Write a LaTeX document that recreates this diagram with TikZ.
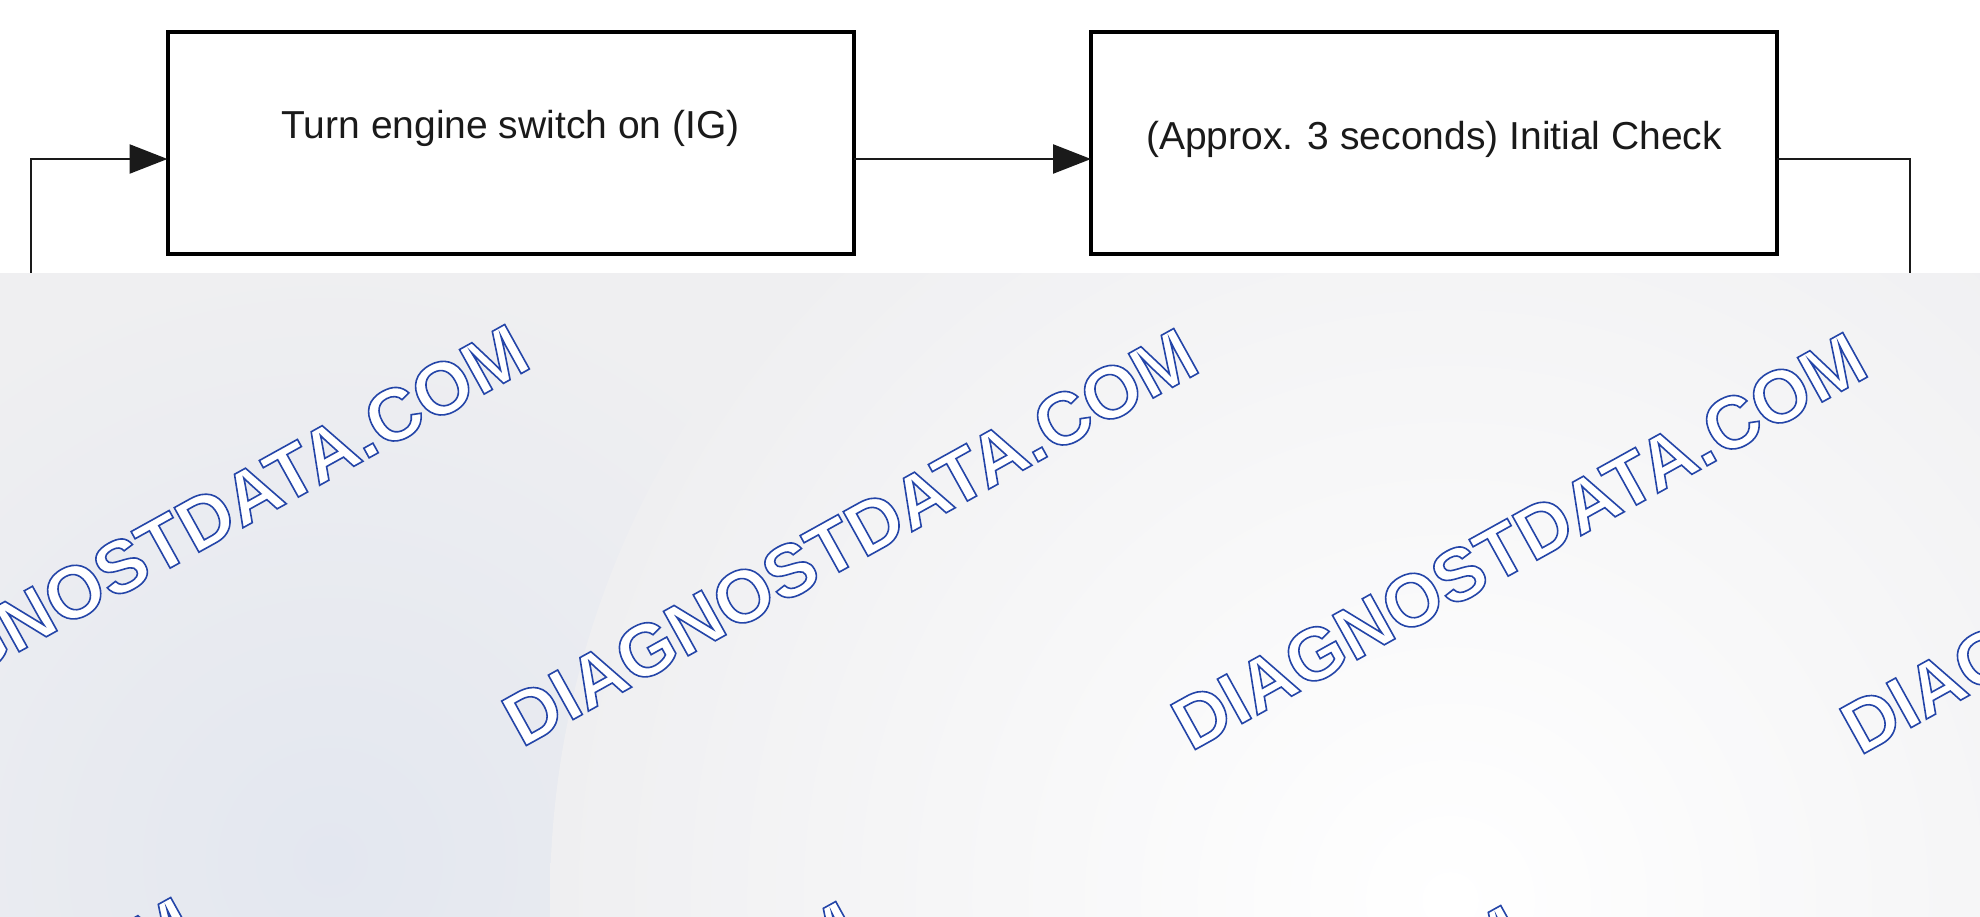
\documentclass[tikz,border=0pt]{standalone}
\usepackage{fontspec}
\setmainfont{Liberation Sans}
\usetikzlibrary{arrows.meta}

\definecolor{c1a1a1a}{RGB}{26,26,26}
\definecolor{cefeff1}{RGB}{239,239,241}
\definecolor{ce3e7f0}{RGB}{227,231,240}
\newcommand{\wmline}{\special{pdf:literal direct 2 Tr 1.6 w 0.14 0.27 0.66 RG}DIAGNOSTDATA.COM\special{pdf:literal direct 0 Tr}}

\begin{document}
\begin{tikzpicture}[x=1pt, y=-1pt, inner sep=0pt, outer sep=0pt,
  stepbox/.style={draw=black, line width=4pt, minimum width=686pt, minimum height=222pt,
    text=c1a1a1a, font=\fontsize{39}{44}\selectfont, text height=28pt},
  flow/.style={draw=c1a1a1a, line width=2.5pt},
  tip/.style={-{Triangle[length=38pt,width=29pt]}},
  wmtext/.style={rotate=29, text=white, font=\fontsize{74}{80}\selectfont\bfseries}]
  \useasboundingbox (0,0) rectangle (1980,916);

  % flow boxes
  \node[stepbox, text depth=38pt] (ignon) at (510.5,143) {Turn engine switch on (IG)};
  \node[stepbox, text depth=16pt] (check) at (1434,143) {(Approx. 3 seconds) Initial Check};

  \coordinate (feed) at (0,159);
  \coordinate (loopin) at (31,273);
  \coordinate (loopout) at (1910,273);

  \draw[flow, tip] (loopin) |- (ignon.west |- feed);
  \draw[flow, tip] (ignon.east |- feed) -- (check.west |- feed);
  \draw[flow] (check.east |- feed) -| (loopout);

  % watermark band
  \begin{scope}
    \clip (0,273) rectangle (1980,916);
    \fill[cefeff1] (0,273) rectangle (1980,916);
    \shade[inner color=ce3e7f0, outer color=cefeff1] (330,860) circle[radius=600];
    \shade[inner color=white, outer color=cefeff1] (1450,900) circle[radius=900];
    \node[wmtext] (wm1) at (181,533) {\wmline};
    \node[wmtext] (wm2) at (850,537) {\wmline};
    \node[wmtext] (wm3) at (1519,541) {\wmline};
    \node[wmtext] (wm4) at (2188,545) {\wmline};
    \node[wmtext] (wm5) at (-153,1106) {\wmline};
    \node[wmtext] (wm6) at (512,1110) {\wmline};
    \node[wmtext] (wm7) at (1177,1114) {\wmline};
  \end{scope}
\end{tikzpicture}
\end{document}
